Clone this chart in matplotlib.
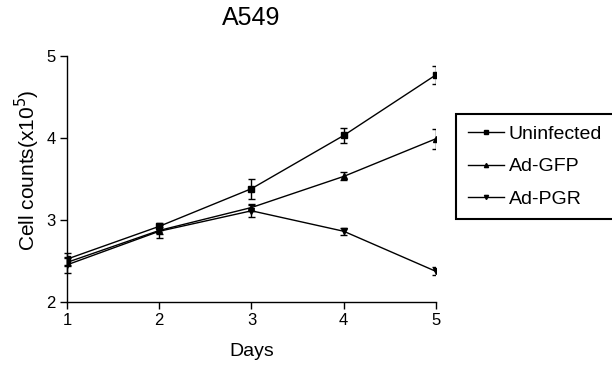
import matplotlib
matplotlib.use("Agg")
import matplotlib.pyplot as plt
from matplotlib.lines import Line2D
from matplotlib.patches import Rectangle

plt.rcParams['font.family'] = ['Liberation Sans', 'DejaVu Sans']

days = [1, 2, 3, 4, 5]
uninfected = [2.52, 2.92, 3.38, 4.03, 4.77]
uninfected_err = [0.07, 0.04, 0.12, 0.09, 0.11]
ad_gfp = [2.48, 2.87, 3.15, 3.53, 3.99]
ad_gfp_err = [0.05, 0.04, 0.04, 0.05, 0.12]
ad_pgr = [2.45, 2.86, 3.11, 2.86, 2.37]
ad_pgr_err = [0.1, 0.08, 0.07, 0.04, 0.05]
labels = ["Uninfected", "Ad-GFP", "Ad-PGR"]
markers = ['s', '^', 'v']

fig = plt.figure(figsize=(6.12, 3.70), dpi=100)
ax = fig.add_axes([67/612, 1 - 301.7/370, (436 - 67)/612, (301.7 - 56)/370])
ax.set_xlim(1, 5)
ax.set_ylim(2, 5)

clip_rect = Rectangle((-0.1, -0.1), 1.1, 1.2, transform=ax.transAxes,
                      facecolor='none', edgecolor='none')
ax.add_patch(clip_rect)

# half cap width in data units (3.5 px)
cap_half = 3.5 / (ax.bbox.width / (days[-1] - days[0]))

handles = []
for name, vals, errs, m in zip(labels, [uninfected, ad_gfp, ad_pgr],
                               [uninfected_err, ad_gfp_err, ad_pgr_err], markers):
    line, caps, bars = ax.errorbar(days, vals, yerr=errs, color='black', marker=m,
                                   markersize=4.5, linewidth=1.0, elinewidth=1.0,
                                   capsize=0)
    for b in bars:
        b.set_clip_path(clip_rect)
    lo = [v - e for v, e in zip(vals, errs)]
    hi = [v + e for v, e in zip(vals, errs)]
    xmin = [d - cap_half for d in days]
    xmax = [d + cap_half for d in days]
    for ys in (lo, hi):
        lc = ax.hlines(ys, xmin, xmax, colors='black', linewidth=1.0)
        lc.set_clip_path(clip_rect)
    handles.append(Line2D([], [], color='black', marker=m, markersize=3, linewidth=1.0))

ax.set_xticks(days)
ax.set_yticks([2, 3, 4, 5])
for s in ['top', 'right']:
    ax.spines[s].set_visible(False)
for s in ['left', 'bottom']:
    ax.spines[s].set_linewidth(1.0)
ax.tick_params(direction='out', length=5, width=1.0, labelsize=12, pad=3)
ax.set_xlabel("Days", fontsize=14, labelpad=11)
ax.set_ylabel("Cell counts(x10$^5$)", fontsize=15)
ax.yaxis.set_label_coords(-0.068, 0.535)
ax.set_title("A549", fontsize=18, pad=22)

leg = ax.legend(handles, labels, loc='upper left', bbox_to_anchor=(456/612, 1 - 114/370),
                bbox_transform=fig.transFigure, frameon=True, fancybox=False,
                edgecolor='black', fontsize=14, handlelength=1.85, handletextpad=0.25,
                borderpad=0.6, labelspacing=0.75, borderaxespad=0, framealpha=1)
leg.get_frame().set_linewidth(1.5)

fig.savefig("out.png", dpi=100)
